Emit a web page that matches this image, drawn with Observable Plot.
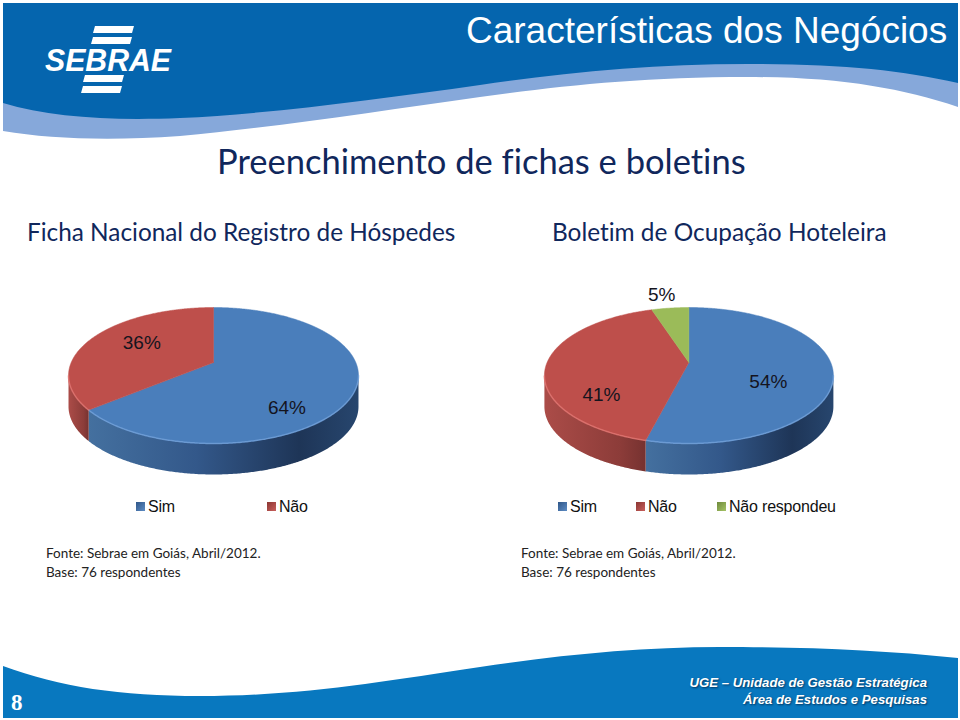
<!DOCTYPE html>
<html lang="pt">
<head>
<meta charset="utf-8">
<script src="https://cdn.jsdelivr.net/npm/d3@7"></script>
<script src="https://cdn.jsdelivr.net/npm/@observablehq/plot@0.6"></script>
<style>
html,body{margin:0;padding:0;background:#fff}
#page{position:relative;width:960px;height:720px;overflow:hidden;background:#fff}
#page>svg.bg{position:absolute;left:0;top:0}
.t{position:absolute;white-space:nowrap;line-height:1}
.cal{font-family:Lato,sans-serif;color:#10275c;font-variant-ligatures:none}
.ar{font-family:"Liberation Sans",Arial,sans-serif}
.pie{position:absolute}
.sw{position:absolute;width:9px;height:9px}
</style>
</head>
<body>
<div id="page"></div>
<script>
// ---- data ----
const hotelCategories = ["Sim", "Não"];
const hotelValues = [64, 36];
const occupancyCategories = ["Sim", "Não", "Não respondeu"];
const occupancyValues = [54, 41, 5];
const sliceColors = ["#4a7ebb", "#be4f4b", "#9bbb59"];
const rimFills = ["url(#rimBlue)", "url(#rimRed)", "url(#rimGreen)"];
const edgeColors = ["#6f9fd8", "#e0736f", "#b5d070"];
const swatchColors = [["#5d8cc4","#2f5688"],["#c9605c","#8a3532"],["#a5c466","#6f8a3c"]];

// ---- label placement relative to the slice mid-angle ----
const hotelLabelTurn = [18.5, 19], hotelLabelRadius = [0.70, 0.69];
const occupancyLabelTurn = [2, -23, 0], occupancyLabelRadius = [0.557, 0.667, 1.2];

const page = document.getElementById("page");

// ---- decoration behind the chart ----
page.insertAdjacentHTML("beforeend", `
<svg class="bg" width="960" height="720" viewBox="0 0 960 720">
  <path fill="#86a8da" d="M3 3H958V107C900 88 840 77 747 77C640 77 560 86 480 97C380 111 270 128 180 136C110 141 50 139 3 131Z"/>
  <path fill="#0565ae" d="M3 3H958V83C900 70 840 64 747 64C650 64 560 73 480 85C380 99 270 114 180 118C110 121 50 117 3 103Z"/>
  <path fill="#0878bf" d="M3 666C60 687 120 696 200 696C300 696 380 682 480 667C560 655 640 647 720 647C810 647 880 650 958 658V718H3Z"/>
  <g fill="#fff">
    <path d="M95 26H134L132 33H93Z"/><path d="M93 37H132L130 44H91Z"/>
    <path d="M85 75H124L122 82H83Z"/><path d="M83 86H122L120 93H81Z"/>
  </g>
</svg>`);

function addText(text, left, top, size, cls, extra) {
  const d = document.createElement("div");
  d.className = "t " + cls;
  d.textContent = text;
  d.style.left = left + "px";
  d.style.top = top + "px";
  d.style.fontSize = size + "px";
  if (extra) d.style.cssText += extra;
  page.appendChild(d);
  return d;
}

addText("SEBRAE", 45, 44, 32, "ar", "color:#fff;font-weight:bold;font-style:italic;transform:scaleX(.945);transform-origin:left center");
addText("Características dos Negócios", 466, 12, 37, "ar", "color:#fff");
addText("Preenchimento de fichas e boletins", 217, 144, 34.5, "cal");
addText("Ficha Nacional do Registro de Hóspedes", 27, 220, 24.35, "cal");
addText("Boletim de Ocupação Hoteleira", 552, 220, 24.4, "cal");
for (const left of [46, 521]) {
  addText("Fonte: Sebrae em Goiás, Abril/2012.", left, 547, 13.5, "cal", "color:#222");
  addText("Base: 76 respondentes", left, 566, 13.5, "cal", "color:#222");
}
addText("8", 11, 691, 23, "", "font-family:'Liberation Serif',serif;font-weight:bold;color:#fff");
const shadow = "color:#fff;font-weight:bold;font-style:italic;text-shadow:1px 1px 2px #04365f;right:33px;left:auto";
addText("UGE – Unidade de Gestão Estratégica", 0, 676, 13.2, "ar", shadow);
addText("Área de Estudos e Pesquisas", 0, 693, 13.2, "ar", shadow);

// ---- pies ----
const tilt = 0.19, depth = 0.456;
function project(thetaDeg, r = 1) {
  const t = thetaDeg * Math.PI / 180;
  const u = r * Math.sin(t), v = r * Math.cos(t);
  const q = 1 + tilt * v;
  return {x: u * Math.sqrt(1 - tilt * tilt) / q, y: (v + tilt) / q};
}

function pieChart(categories, values, labelTurn, labelRadius, left, rx) {
  const total = d3.sum(values);
  const top = [], rim = [], edge = [], labels = [];
  let acc = 0;
  values.forEach((value, i) => {
    const start = acc / total * 360, end = (acc + value) / total * 360;
    acc += value;
    const key = categories[i];
    top.push({key, ...project(0, 0)});
    const front = [];
    const n = Math.max(2, Math.ceil((end - start) * 2));
    for (let k = 0; k <= n; ++k) {
      const p = project(start + (end - start) * k / n);
      top.push({key, ...p});
      if (p.y <= 0.001) front.push(p);
    }
    top.push({key, ...project(0, 0)});
    if (front.length) {
      for (const p of front) { rim.push({i, ...p}); edge.push({i, ...p}); }
      for (const p of [...front].reverse()) rim.push({i, x: p.x, y: p.y - depth});
    }
    const mid = (start + end) / 2 + labelTurn[i];
    const m = mid * Math.PI / 180;
    labels.push({text: value + "%", x: labelRadius[i] * Math.sin(m), y: labelRadius[i] * Math.cos(m)});
  });
  const defs = () => d3.create("svg:defs").html(`
    <linearGradient id="rimBlue"><stop offset="0" stop-color="#44709f"/><stop offset=".4" stop-color="#33588a"/><stop offset=".78" stop-color="#1e3557"/><stop offset="1" stop-color="#27466e"/></linearGradient>
    <linearGradient id="rimRed"><stop offset="0" stop-color="#ab4c48"/><stop offset=".75" stop-color="#8c3c39"/><stop offset="1" stop-color="#763230"/></linearGradient>
    <linearGradient id="rimGreen"><stop offset="0" stop-color="#8aa650"/><stop offset="1" stop-color="#647a39"/></linearGradient>`).node();
  const plot = Plot.plot({
    width: 2.4 * rx, height: 3.3 * 68,
    margin: 0,
    x: {domain: [-1.2, 1.2], axis: null},
    y: {domain: [-1.8, 1.5], axis: null},
    color: {domain: categories, range: sliceColors.slice(0, categories.length)},
    style: {background: "transparent", overflow: "visible"},
    marks: [
      defs,
      ...categories.map((c, i) => Plot.line(rim.filter(d => d.i === i), {x: "x", y: "y", fill: rimFills[i], stroke: "none"})),
      Plot.line(top, {x: "x", y: "y", z: "key", fill: "key", stroke: "key", strokeWidth: 0.5}),
      ...categories.map((c, i) => Plot.line(edge.filter(d => d.i === i), {x: "x", y: "y", stroke: edgeColors[i], strokeWidth: 1.5, strokeOpacity: 0.8})),
      Plot.text(labels, {x: "x", y: "y", text: "text", fontSize: 19, fontFamily: "Liberation Sans, Arial, sans-serif", fill: "#14141e"})
    ]
  });
  plot.classList.add("pie");
  plot.style.left = left + "px";
  plot.style.top = (375 - 1.5 * 68) + "px";
  page.appendChild(plot);
}
pieChart(hotelCategories, hotelValues, hotelLabelTurn, hotelLabelRadius, 212.7 - 1.2 * 145, 145);
pieChart(occupancyCategories, occupancyValues, occupancyLabelTurn, occupancyLabelRadius, 688.2 - 1.2 * 144.5, 144.5);

// ---- legends ----
function legend(categories, swatchLefts) {
  categories.forEach((c, i) => {
    const s = document.createElement("div");
    s.className = "sw";
    s.style.left = swatchLefts[i] + "px";
    s.style.top = "502px";
    s.style.background = `linear-gradient(135deg, ${swatchColors[i][1]}, ${swatchColors[i][0]})`;
    page.appendChild(s);
    addText(c, swatchLefts[i] + 12, 499, 16, "ar", "color:#111;letter-spacing:-.2px");
  });
}
legend(hotelCategories, [136, 267]);
legend(occupancyCategories, [558, 636, 717]);
</script>
</body>
</html>
